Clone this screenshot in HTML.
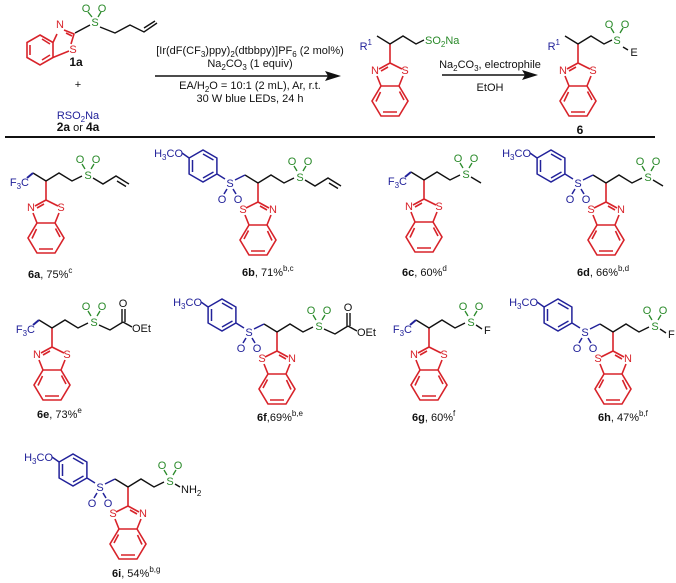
<!DOCTYPE html>
<html><head><meta charset="utf-8"><style>
html,body{margin:0;padding:0;background:#fff;}
svg{display:block;font-family:"Liberation Sans",sans-serif;}
.k{stroke:#111;stroke-width:1.4;fill:none;}
.r{stroke:#d8232a;stroke-width:1.6;fill:none;}
.b{stroke:#22229a;stroke-width:1.5;fill:none;}
.g{stroke:#2a8a2a;stroke-width:1.3;fill:none;}
text{font-size:11px;}
.tr{fill:#d8232a;text-anchor:middle;}
.tb{fill:#22229a;}
.tg{fill:#2a8a2a;}
.tk{fill:#111;}
.m{text-anchor:middle;}
.e{text-anchor:end;}
.bold{font-weight:bold;}
</style></head><body>
<svg width="676" height="583" viewBox="0 0 676 583" xmlns="http://www.w3.org/2000/svg">
<defs>
<g id="bt" class="r">
<path d="M0,-19 L0,0 M0,0 L-11,6 M-2,4 L-9,8 M-13,13 L-9,23 L9,23 L13,13 M12,6 L0,0 M9,23 L18,38 L9,53 L-9,53 L-18,38 L-9,23 M9.5,28.5 L14,37 M7,49 L-7,49 M-14,38.5 L-9.5,29"/>
</g>
<g id="ar">
<path class="k" d="M0,0 L-13,-8"/>
<path class="b" d="M-13,-8 L-23,-3 M-31,6 L-34,11 M-25,6 L-22,11 M-33,-4 L-41,-9 M-41.1,-9 L-55,-1 L-68.9,-9 L-68.9,-25 L-55,-33 L-41.1,-25 Z M-44.5,-11 L-55,-5 M-65.5,-11 L-65.5,-23 M-55,-29 L-44.5,-23 M-68.9,-25 L-76,-30"/>
</g>
<g id="cf">
<path class="k" d="M0,0 L-13,-8"/>
<path class="b" d="M-13,-8 L-19,-3" style="stroke-width:2"/>
</g>
<g id="rc">
<path class="k" d="M0,0 L13,-8 L26,0 L36,-5"/>
<path class="g" d="M39,-12 L36,-17 M45,-12 L48,-17"/>
</g>
</defs>

<!-- 1a -->
<path class="r" d="M40,35 L53,42.5 L53,57.5 L40,65 L27,57.5 L27,42.5 Z M42,39 L50,44 M50,55 L42,60 M30,55 L30,45 M53,42.5 L57,34 M64,30 L74,34 L71,44 M69,51 L53,57.5 M66,33 L72,36"/>
<text x="60" y="28" class="tr">N</text>
<text x="73" y="53" class="tr">S</text>
<path class="k" d="M75,33 L90,25"/>
<path class="g" d="M92,17 L88,12 M98,17 L101,12"/>
<text x="95" y="26" class="tg m">S</text>
<text x="86" y="12" class="tg m">O</text>
<text x="102" y="12" class="tg m">O</text>
<path class="k" d="M100,27 L115,33 L130,25 L144,32 L157,23 M144,28 L155,21"/>
<text x="76" y="66" class="tk m bold" style="font-size:12px">1a</text>
<text x="78" y="88" class="tk m">+</text>
<text x="78" y="119" class="tb m">RSO<tspan dy="3" style="font-size:8px">2</tspan><tspan dy="-3">Na</tspan></text>
<text x="78" y="131" class="tk m"><tspan class="bold" style="font-size:12px">2a</tspan> or <tspan class="bold" style="font-size:12px">4a</tspan></text>

<!-- arrow 1 -->
<text x="250" y="54" class="tk m">[Ir(dF(CF<tspan dy="3" style="font-size:8px">3</tspan><tspan dy="-3">)ppy)</tspan><tspan dy="3" style="font-size:8px">2</tspan><tspan dy="-3">(dtbbpy)]PF</tspan><tspan dy="3" style="font-size:8px">6</tspan><tspan dy="-3"> (2 mol%)</tspan></text>
<text x="250" y="67" class="tk m">Na<tspan dy="3" style="font-size:8px">2</tspan><tspan dy="-3">CO</tspan><tspan dy="3" style="font-size:8px">3</tspan><tspan dy="-3"> (1 equiv)</tspan></text>
<path class="k" d="M155,76 L328,76"/>
<path d="M341,76 L325,71 L328,76 L325,81 Z" fill="#111"/>
<text x="250" y="89" class="tk m">EA/H<tspan dy="3" style="font-size:8px">2</tspan><tspan dy="-3">O = 10:1 (2 mL), Ar, r.t.</tspan></text>
<text x="250" y="102" class="tk m">30 W blue LEDs, 24 h</text>

<!-- intermediate -->
<use href="#bt" transform="translate(390,63)"/>
<text x="375" y="74" class="tr">N</text><text x="405" y="74" class="tr">S</text>
<path class="k" d="M390,44 L377,36 M390,44 L403,36 L416,44 L424,40"/>
<text x="372" y="50" class="tb e">R<tspan dy="-5" style="font-size:8px">1</tspan></text>
<text x="425" y="44" class="tg">SO<tspan dy="3" style="font-size:8px">2</tspan><tspan dy="-3">Na</tspan></text>

<!-- arrow 2 -->
<text x="490" y="68" class="tk m">Na<tspan dy="3" style="font-size:8px">2</tspan><tspan dy="-3">CO</tspan><tspan dy="3" style="font-size:8px">3</tspan><tspan dy="-3">, electrophile</tspan></text>
<path class="k" d="M442,75 L525,75"/>
<path d="M538,75 L522,70 L525,75 L522,80 Z" fill="#111"/>
<text x="490" y="91" class="tk m">EtOH</text>

<!-- product 6 -->
<use href="#bt" transform="translate(578,63)"/>
<text x="563" y="74" class="tr">N</text><text x="593" y="74" class="tr">S</text>
<path class="k" d="M578,44 L565,36 M578,44 L591,36 L604,44 L612,40 M623,47 L628,50"/>
<path class="g" d="M614,33 L611,28 M620,33 L623,28"/>
<text x="560" y="50" class="tb e">R<tspan dy="-5" style="font-size:8px">1</tspan></text>
<text x="617" y="44" class="tg m">S</text>
<text x="609" y="28" class="tg m">O</text><text x="625" y="28" class="tg m">O</text>
<text x="634" y="56" class="tk m">E</text>
<text x="580" y="134" class="tk m bold" style="font-size:12px">6</text>

<line x1="5" y1="137" x2="655" y2="137" stroke="#111" stroke-width="2"/>

<!-- 6a -->
<g transform="translate(46,181)">
<use href="#bt" transform="translate(0,19)"/>
<text x="-15" y="30" class="tr">N</text><text x="15" y="30" class="tr">S</text>
<use href="#cf"/><text x="-17" y="5" class="tb e">F<tspan dy="3" style="font-size:8px">3</tspan><tspan dy="-3">C</tspan></text>
<use href="#rc"/><text x="42" y="-2" class="tg m">S</text><text x="34" y="-18" class="tg m">O</text><text x="50" y="-18" class="tg m">O</text>
<path class="k" d="M47,-3 L57,3 L70,-5 L83,3 M71,0 L80,5.5"/>
</g>
<text x="28" y="278" class="tk"><tspan class="bold">6a</tspan>, 75%<tspan dy="-5" style="font-size:8px">c</tspan></text>

<!-- 6b -->
<g transform="translate(258,183)">
<use href="#bt" transform="translate(0,19) scale(-1,1)"/>
<text x="-15" y="30" class="tr">S</text><text x="15" y="30" class="tr">N</text>
<use href="#ar"/><text x="-28" y="4" class="tb m">S</text><text x="-36" y="20" class="tb m">O</text><text x="-20" y="20" class="tb m">O</text>
<text x="-75" y="-26" class="tb e">H<tspan dy="3" style="font-size:8px">3</tspan><tspan dy="-3">CO</tspan></text>
<use href="#rc"/><text x="42" y="-2" class="tg m">S</text><text x="34" y="-18" class="tg m">O</text><text x="50" y="-18" class="tg m">O</text>
<path class="k" d="M47,-3 L57,3 L70,-5 L83,3 M71,0 L80,5.5"/>
</g>
<text x="242" y="276" class="tk"><tspan class="bold">6b</tspan>, 71%<tspan dy="-5" style="font-size:8px">b,c</tspan></text>

<!-- 6c -->
<g transform="translate(424,180)">
<use href="#bt" transform="translate(0,19)"/>
<text x="-15" y="30" class="tr">N</text><text x="15" y="30" class="tr">S</text>
<use href="#cf"/><text x="-17" y="5" class="tb e">F<tspan dy="3" style="font-size:8px">3</tspan><tspan dy="-3">C</tspan></text>
<use href="#rc"/><text x="42" y="-2" class="tg m">S</text><text x="34" y="-18" class="tg m">O</text><text x="50" y="-18" class="tg m">O</text>
<path class="k" d="M47,-3 L57,3"/>
</g>
<text x="402" y="276" class="tk"><tspan class="bold">6c</tspan>, 60%<tspan dy="-5" style="font-size:8px">d</tspan></text>

<!-- 6d -->
<g transform="translate(606,183)">
<use href="#bt" transform="translate(0,19) scale(-1,1)"/>
<text x="-15" y="30" class="tr">S</text><text x="15" y="30" class="tr">N</text>
<use href="#ar"/><text x="-28" y="4" class="tb m">S</text><text x="-36" y="20" class="tb m">O</text><text x="-20" y="20" class="tb m">O</text>
<text x="-75" y="-26" class="tb e">H<tspan dy="3" style="font-size:8px">3</tspan><tspan dy="-3">CO</tspan></text>
<use href="#rc"/><text x="42" y="-2" class="tg m">S</text><text x="34" y="-18" class="tg m">O</text><text x="50" y="-18" class="tg m">O</text>
<path class="k" d="M47,-3 L57,3"/>
</g>
<text x="577" y="276" class="tk"><tspan class="bold">6d</tspan>, 66%<tspan dy="-5" style="font-size:8px">b,d</tspan></text>

<!-- 6e -->
<g transform="translate(52,328)">
<use href="#bt" transform="translate(0,19)"/>
<text x="-15" y="30" class="tr">N</text><text x="15" y="30" class="tr">S</text>
<use href="#cf"/><text x="-17" y="5" class="tb e">F<tspan dy="3" style="font-size:8px">3</tspan><tspan dy="-3">C</tspan></text>
<use href="#rc"/><text x="42" y="-2" class="tg m">S</text><text x="34" y="-18" class="tg m">O</text><text x="50" y="-18" class="tg m">O</text>
<path class="k" d="M47,-3 L58,2 L71,-6 M70,-6 L70,-19 M73,-6 L73,-19 M71,-6 L80,-1"/>
<text x="71" y="-21" class="tk m">O</text><text x="80" y="4" class="tk">OEt</text>
</g>
<text x="37" y="418" class="tk"><tspan class="bold">6e</tspan>, 73%<tspan dy="-5" style="font-size:8px">e</tspan></text>

<!-- 6f -->
<g transform="translate(277,332)">
<use href="#bt" transform="translate(0,19) scale(-1,1)"/>
<text x="-15" y="30" class="tr">S</text><text x="15" y="30" class="tr">N</text>
<use href="#ar"/><text x="-28" y="4" class="tb m">S</text><text x="-36" y="20" class="tb m">O</text><text x="-20" y="20" class="tb m">O</text>
<text x="-75" y="-26" class="tb e">H<tspan dy="3" style="font-size:8px">3</tspan><tspan dy="-3">CO</tspan></text>
<use href="#rc"/><text x="42" y="-2" class="tg m">S</text><text x="34" y="-18" class="tg m">O</text><text x="50" y="-18" class="tg m">O</text>
<path class="k" d="M47,-3 L58,2 L71,-6 M70,-6 L70,-19 M73,-6 L73,-19 M71,-6 L80,-1"/>
<text x="71" y="-21" class="tk m">O</text><text x="80" y="4" class="tk">OEt</text>
</g>
<text x="257" y="421" class="tk"><tspan class="bold">6f</tspan>,69%<tspan dy="-5" style="font-size:8px">b,e</tspan></text>

<!-- 6g -->
<g transform="translate(429,328)">
<use href="#bt" transform="translate(0,19)"/>
<text x="-15" y="30" class="tr">N</text><text x="15" y="30" class="tr">S</text>
<use href="#cf"/><text x="-17" y="5" class="tb e">F<tspan dy="3" style="font-size:8px">3</tspan><tspan dy="-3">C</tspan></text>
<use href="#rc"/><text x="42" y="-2" class="tg m">S</text><text x="34" y="-18" class="tg m">O</text><text x="50" y="-18" class="tg m">O</text>
<path class="k" d="M47,-3 L53,1"/><text x="55" y="6" class="tk">F</text>
</g>
<text x="412" y="421" class="tk"><tspan class="bold">6g</tspan>, 60%<tspan dy="-5" style="font-size:8px">f</tspan></text>

<!-- 6h -->
<g transform="translate(613,332)">
<use href="#bt" transform="translate(0,19) scale(-1,1)"/>
<text x="-15" y="30" class="tr">S</text><text x="15" y="30" class="tr">N</text>
<use href="#ar"/><text x="-28" y="4" class="tb m">S</text><text x="-36" y="20" class="tb m">O</text><text x="-20" y="20" class="tb m">O</text>
<text x="-75" y="-26" class="tb e">H<tspan dy="3" style="font-size:8px">3</tspan><tspan dy="-3">CO</tspan></text>
<use href="#rc"/><text x="42" y="-2" class="tg m">S</text><text x="34" y="-18" class="tg m">O</text><text x="50" y="-18" class="tg m">O</text>
<path class="k" d="M47,-3 L53,1"/><text x="55" y="6" class="tk">F</text>
</g>
<text x="598" y="421" class="tk"><tspan class="bold">6h</tspan>, 47%<tspan dy="-5" style="font-size:8px">b,f</tspan></text>

<!-- 6i -->
<g transform="translate(128,487)">
<use href="#bt" transform="translate(0,19) scale(-1,1)"/>
<text x="-15" y="30" class="tr">S</text><text x="15" y="30" class="tr">N</text>
<use href="#ar"/><text x="-28" y="4" class="tb m">S</text><text x="-36" y="20" class="tb m">O</text><text x="-20" y="20" class="tb m">O</text>
<text x="-75" y="-26" class="tb e">H<tspan dy="3" style="font-size:8px">3</tspan><tspan dy="-3">CO</tspan></text>
<use href="#rc"/><text x="42" y="-2" class="tg m">S</text><text x="34" y="-18" class="tg m">O</text><text x="50" y="-18" class="tg m">O</text>
<path class="k" d="M47,-3 L52,0"/><text x="53" y="6" class="tk">NH<tspan dy="3" style="font-size:8px">2</tspan></text>
</g>
<text x="112" y="577" class="tk"><tspan class="bold">6i</tspan>, 54%<tspan dy="-5" style="font-size:8px">b,g</tspan></text>
</svg>
</body></html>
